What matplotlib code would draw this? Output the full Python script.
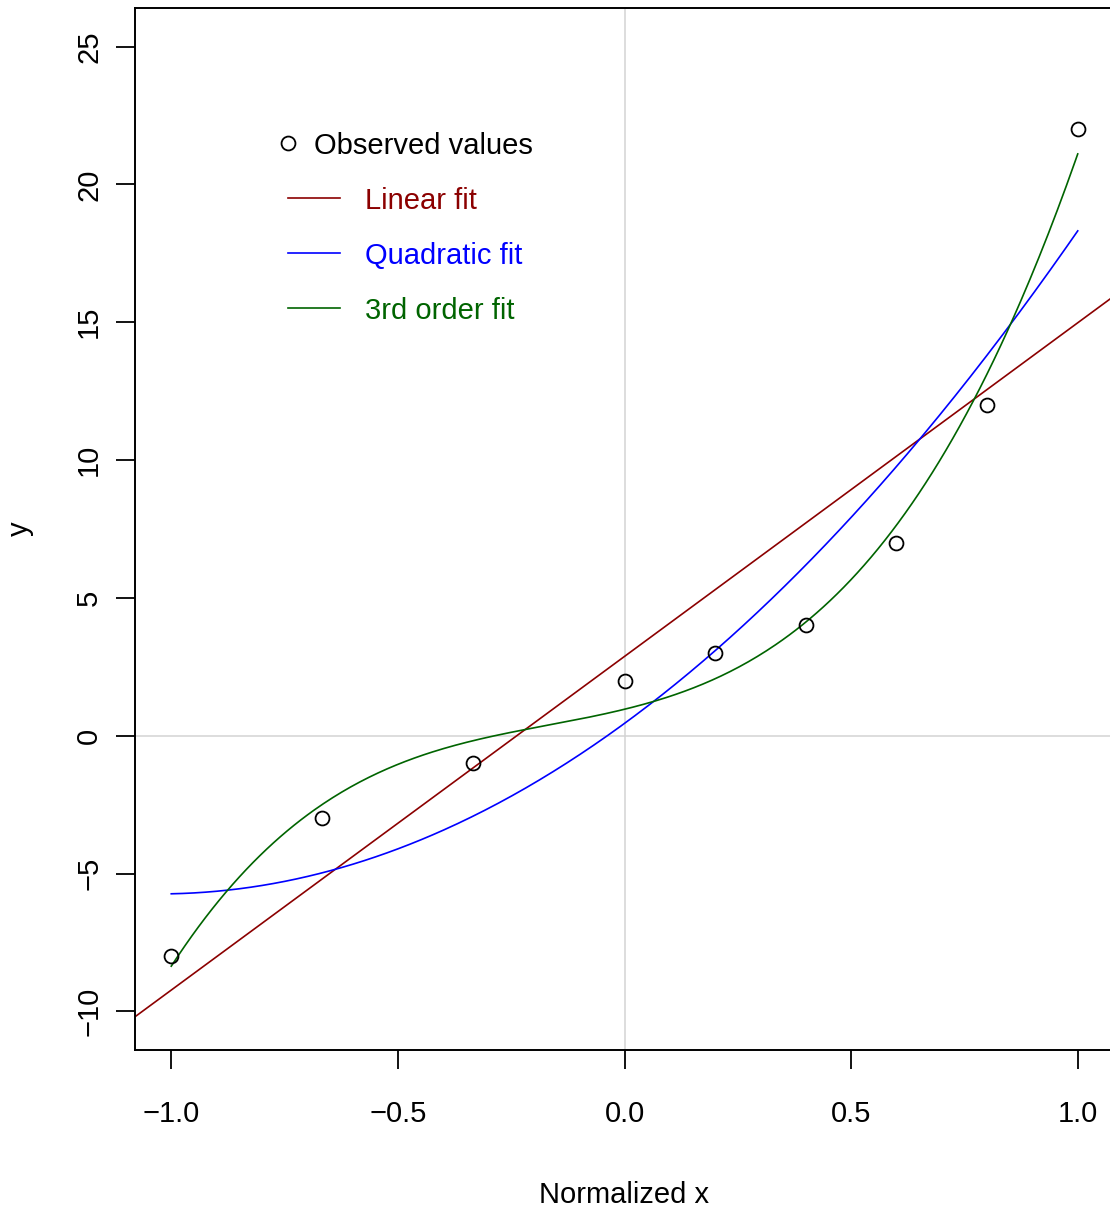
import numpy as np
import matplotlib.pyplot as plt

# Observed values on the normalized x scale
x_obs = [-1.0, -2/3, -1/3, 0.0, 0.2, 0.4, 0.6, 0.8, 1.0]
y_obs = [-8, -3, -1, 2, 3, 4, 7, 12, 22]

x_ticks = [-1.0, -0.5, 0.0, 0.5, 1.0]
y_ticks = [-10, -5, 0, 5, 10, 15, 20, 25]

fit_names = ["Linear fit", "Quadratic fit", "3rd order fit"]
fit_colors = ["#8B0000", "#0000FF", "#006400"]

plt.rcParams['font.family'] = ['Liberation Sans Narrow', 'Liberation Sans', 'DejaVu Sans']
plt.rcParams['axes.unicode_minus'] = True

fs = 21

fig = plt.figure(figsize=(11.10, 12.09), dpi=100)
ax = fig.add_axes([135/1110, 159/1209, 979/1110, 1042/1209])

xmin, xmax = -1.08, 1.08
ymin, ymax = -11.4, 26.4

# reference lines through the origin
ax.axvline(0, color="#D3D3D3", lw=1.1, zorder=1)
ax.axhline(0, color="#D3D3D3", lw=1.1, zorder=1)

# polynomial fits of degree 1..3
xs = np.linspace(-1, 1, 400)
xl = np.array([xmin, xmax])
for deg, col in zip([1, 2, 3], fit_colors):
    coef = np.polyfit(x_obs, y_obs, deg)
    xx = xl if deg == 1 else xs
    ax.plot(xx, np.polyval(coef, xx), color=col, lw=1.2, zorder=2)

ax.plot(x_obs, y_obs, 'o', mfc='none', mec='black', mew=1.3, ms=10, zorder=3)

ax.set_xlim(xmin, xmax)
ax.set_ylim(ymin, ymax)
ax.set_xticks(x_ticks)
ax.set_xticklabels([f"{v:.1f}".replace("-", "\u2212") for v in x_ticks])
ax.set_yticks(y_ticks)
ax.set_yticklabels([str(v).replace("-", "\u2212") for v in y_ticks], rotation=90, va='center')
ax.tick_params(direction='out', length=14, width=1.3, labelsize=fs)
ax.tick_params(axis='x', pad=22)
ax.tick_params(axis='y', pad=9)
for s in ax.spines.values():
    s.set_linewidth(1.4)

ax.set_xlabel("Normalized x", fontsize=fs, labelpad=38)
ax.set_ylabel("y", fontsize=fs, labelpad=30)

# legend drawn by hand in axes coordinates
tr = ax.transAxes
ax.plot([0.1563], [0.8704], 'o', mfc='none', mec='black', mew=1.3, ms=10, transform=tr)
ax.text(0.1828, 0.8674, "Observed values", transform=tr, fontsize=fs, va='center', ha='left')
for i, (name, col) in enumerate(zip(fit_names, fit_colors)):
    yy = 0.8177 - i * 0.0528
    ax.plot([0.1563, 0.2094], [yy, yy], color=col, lw=1.2, transform=tr)
    ax.text(0.2349, yy - 0.003, name, color=col, transform=tr, fontsize=fs, va='center', ha='left')

fig.savefig("out.png", dpi=100)
